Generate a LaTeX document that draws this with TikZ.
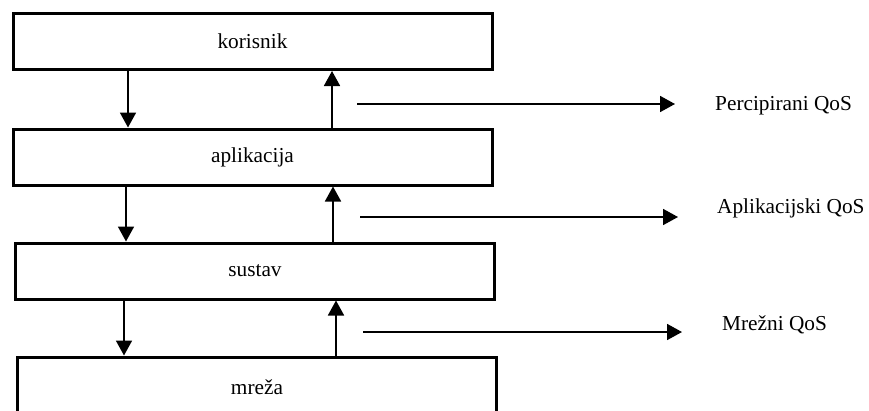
\documentclass[tikz,border=0pt]{standalone}
\usepackage{fontspec}
\setmainfont{Liberation Serif}
\usetikzlibrary{arrows.meta,positioning}

\tikzset{
  layer/.style={draw, line width=3pt, minimum width=479pt, minimum height=56pt, inner sep=0pt},
  flow/.style={line width=1.8pt, -{Triangle[length=15pt,width=16pt]}},
  qos/.style={anchor=west, inner sep=0pt}
}

\begin{document}
\begin{tikzpicture}[x=1pt, y=-1pt, font=\fontsize{21.3}{25}\selectfont]
			\clip (0,0) rectangle (869,410);
			
			% Layers
			\node[layer] (korisnik) at (252.5,41.5) {korisnik};
			\node[layer] (aplikacija) at (252.5,157) {aplikacija};
			\node[layer] (sustav) at (255,271) {sustav};
			\node[layer, minimum height=60pt] (mreza) at (257,387) {mreža};
			
			% Downward flow
			\draw[flow] ([xshift=-124.5pt]korisnik.south) coordinate (d1) -- (d1 |- aplikacija.north);
			\draw[flow] ([xshift=-126.5pt]aplikacija.south) coordinate (d2) -- (d2 |- sustav.north);
			\draw[flow] ([xshift=-131pt]sustav.south) coordinate (d3) -- (d3 |- mreza.north);
			
			% Upward flow
			\draw[flow] ([xshift=79.5pt]aplikacija.north) coordinate (u1) -- (u1 |- korisnik.south);
			\draw[flow] ([xshift=78pt]sustav.north) coordinate (u2) -- (u2 |- aplikacija.south);
			\draw[flow] ([xshift=79pt]mreza.north) coordinate (u3) -- (u3 |- sustav.south);
			
			% QoS levels
			\node[qos] (percipirani) at (715,106) {Percipirani QoS};
			\node[qos] (aplikacijski) at (717,208) {Aplikacijski QoS};
			\node[qos] (mrezni) at (722,325) {Mrežni QoS};
			
			\coordinate (q1) at (357,104);
			\coordinate (q2) at (360,217);
			\coordinate (q3) at (363,332);
			\draw[flow, shorten >=40pt] (q1) -- (q1 -| percipirani.west);
			\draw[flow, shorten >=39pt] (q2) -- (q2 -| aplikacijski.west);
			\draw[flow, shorten >=40pt] (q3) -- (q3 -| mrezni.west);
		\end{tikzpicture}
\end{document}
